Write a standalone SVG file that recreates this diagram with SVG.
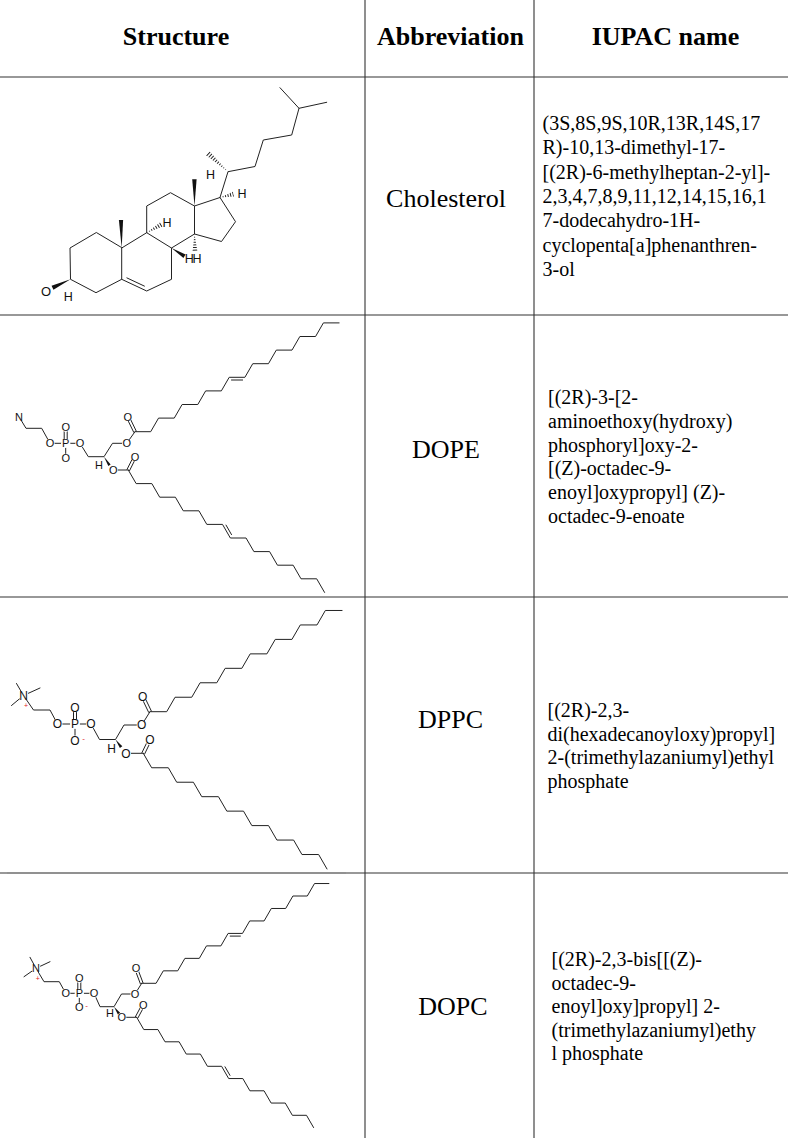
<svg xmlns="http://www.w3.org/2000/svg" width="800" height="1138" viewBox="0 0 800 1138">
<style>
.grid{stroke:#333;stroke-width:1.1;fill:none}
.hdr{font-family:"Liberation Serif","Times New Roman",serif;font-weight:bold;font-size:26px;text-anchor:middle;fill:#000}
.abbr{font-family:"Liberation Serif","Times New Roman",serif;font-size:26px;text-anchor:middle;fill:#000}
.iu{font-family:"Liberation Serif","Times New Roman",serif;font-size:20px;fill:#000}
.b{stroke:#222;stroke-width:1;fill:none;stroke-linejoin:round;stroke-linecap:round}
.w{fill:#111;stroke:none}
.hash{stroke:#222;stroke-width:7;stroke-dasharray:1 1.6;fill:none}
.m{fill:#fff}
.at{font-family:"Liberation Sans",Arial,sans-serif;text-anchor:middle;fill:#111}
.chg{font-family:"Liberation Sans",Arial,sans-serif;text-anchor:middle;fill:#e02020}
</style>
<defs>
<clipPath id="h9"><polygon points="146.7,232.7 162.69,226.39 160.31,222.21"/></clipPath>
<clipPath id="h14"><polygon points="194.5,234 197.5,251.93 192.5,252.07"/></clipPath>
<clipPath id="h17"><polygon points="220,197.5 234.07,196.53 232.93,191.87"/></clipPath>
<clipPath id="h20"><polygon points="228,171.7 209.51,151.3 205.89,155.3"/></clipPath>
</defs>
<rect width="800" height="1138" fill="#fff"/>

<g id="table-lines">
<line class="grid" x1="0" y1="77" x2="788" y2="77"/>
<line class="grid" x1="0" y1="315" x2="788" y2="315"/>
<line class="grid" x1="0" y1="597" x2="788" y2="597"/>
<line class="grid" x1="0" y1="873" x2="788" y2="873"/>
<line x1="7" y1="873" x2="346" y2="873" stroke="#8a8a8a" stroke-width="1.2"/>
<line class="grid" x1="365" y1="0" x2="365" y2="1138"/>
<line class="grid" x1="534" y1="0" x2="534" y2="1138"/>
</g>

<g id="header">
<text class="hdr" x="176" y="45">Structure</text>
<text class="hdr" x="450.5" y="45">Abbreviation</text>
<text class="hdr" x="665.5" y="45">IUPAC name</text>
</g>

<g id="cholesterol-structure">
<path class="b" d="M96,232.7 L70,248 L70.5,279.3 L96,292.7 L121.7,279.3 L121.7,248 Z"/>
<path class="b" d="M121.7,279.3 L146.7,291 L171.5,279.3 L171.5,248 L146.7,232.7 L121.7,248"/>
<line class="b" x1="126.9" y1="277.9" x2="144.4" y2="286.1"/>
<path class="b" d="M146.7,232.7 L146.7,206 L170.5,192.7 L194.5,206 L194.5,234 L171.5,248"/>
<path class="b" d="M194.5,206 L220,197.5 L235.5,221.7 L221.5,241.5 L194.5,234"/>
<path class="b" d="M220,197.5 L228,171.7 L255,166.5 L263.3,140 L291.7,135 L299,108.3 L280,87.7"/>
<line class="b" x1="299" y1="108.3" x2="326.7" y2="102.3"/>
<polygon class="w" points="121.7,248 123.1,220 118.9,220"/>
<polygon class="w" points="194.5,206 196.6,179.3 192.2,179.3"/>
<polygon class="w" points="171.5,248 183.42,257.99 185.58,254.61"/>
<polygon class="w" points="70.5,279.3 53.44,289.79 51.56,285.81"/>
<line class="hash" x1="146.7" y1="232.7" x2="161.5" y2="224.3" clip-path="url(#h9)"/>
<line class="hash" x1="194.5" y1="234" x2="195" y2="252" clip-path="url(#h14)"/>
<line class="hash" x1="220" y1="197.5" x2="233.5" y2="194.2" clip-path="url(#h17)"/>
<line class="hash" x1="228" y1="171.7" x2="207.7" y2="153.3" clip-path="url(#h20)"/>
<text class="at" font-size="13" x="46" y="295.7">O</text>
<text class="at" font-size="12.5" x="68.3" y="301">H</text>
<text class="at" font-size="12.5" x="167" y="226.5">H</text>
<text class="at" font-size="12.5" x="189.3" y="262.8">H</text>
<text class="at" font-size="12.5" x="197" y="262.8">H</text>
<text class="at" font-size="12.5" x="242" y="197.8">H</text>
<text class="at" font-size="12.5" x="210.5" y="179">H</text>
</g>
<g id="cholesterol-abbr"><text class="abbr" x="446" y="207">Cholesterol</text></g>
<g id="cholesterol-iupac">
<text class="iu" x="542.5" y="130">(3S,8S,9S,10R,13R,14S,17</text>
<text class="iu" x="542.5" y="154.3">R)-10,13-dimethyl-17-</text>
<text class="iu" x="542.5" y="178.6">[(2R)-6-methylheptan-2-yl]-</text>
<text class="iu" x="542.5" y="202.9">2,3,4,7,8,9,11,12,14,15,16,1</text>
<text class="iu" x="542.5" y="227.2">7-dodecahydro-1H-</text>
<text class="iu" x="542.5" y="251.5">cyclopenta[a]phenanthren-</text>
<text class="iu" x="542.5" y="275.8">3-ol</text>
</g>

<g id="dope-structure">
<path class="b" d="M19,416.7 L26,428.3 L41.7,428.3 L50,443.3 L80,443.3 L88.3,456.7 L104,456.7 L112.5,443.3 L126.7,443.3 L135,431.7"/>
<line class="b" x1="64.2" y1="443.3" x2="64.2" y2="427.3"/>
<line class="b" x1="67.2" y1="443.3" x2="67.2" y2="427.3"/>
<line class="b" x1="65.7" y1="443.3" x2="65.7" y2="458.3"/>
<line class="b" x1="136.26" y1="431.09" x2="128.96" y2="416.09"/>
<line class="b" x1="133.74" y1="432.31" x2="126.44" y2="417.31"/>
<polygon class="w" points="104,456.7 110.65,464.4 108.35,466"/>
<line class="b" x1="113.3" y1="470" x2="128.3" y2="470"/>
<line class="b" x1="129.55" y1="470.63" x2="136.25" y2="457.33"/>
<line class="b" x1="127.05" y1="469.37" x2="133.75" y2="456.07"/>
<polyline class="b" points="135,431.7 150.7,431.7 158.55,418.1 174.25,418.1 182.1,404.5 197.8,404.5 205.65,390.9 221.35,390.9 229.2,377.3 244.9,377.3 252.75,363.7 268.45,363.7 276.3,350.1 292,350.1 299.85,336.5 315.55,336.5 323.4,322.9 339.1,322.9"/>
<line class="b" x1="231.5" y1="380" x2="242.6" y2="380"/>
<polyline class="b" points="128.3,470 136.15,483.6 151.85,483.6 159.7,497.2 175.4,497.2 183.25,510.8 198.95,510.8 206.8,524.4 222.5,524.4 230.35,538 246.05,538 253.9,551.6 269.6,551.6 277.45,565.2 293.15,565.2 301,578.8 316.7,578.8 324.55,592.4"/>
<line class="b" x1="226.02" y1="525.09" x2="231.51" y2="534.61"/>
<g class="m">
<circle cx="19" cy="416.7" r="4.6"/><circle cx="50" cy="443.3" r="4.6"/><circle cx="65.7" cy="443.3" r="4.6"/>
<circle cx="65.7" cy="427.3" r="4.6"/><circle cx="65.7" cy="458.3" r="4.6"/><circle cx="80" cy="443.3" r="4.6"/>
<circle cx="126.7" cy="443.3" r="4.6"/><circle cx="127.7" cy="416.7" r="4.6"/><circle cx="113.3" cy="470" r="4.6"/>
<circle cx="135" cy="456.7" r="4.6"/>
</g>
<g font-size="11">
<text class="at" x="19" y="420.6">N</text>
<text class="at" x="50" y="447.2">O</text>
<text class="at" x="65.7" y="447.2">P</text>
<text class="at" x="65.7" y="431.2">O</text>
<text class="at" x="65.7" y="462.2">O</text>
<text class="at" x="80" y="447.2">O</text>
<text class="at" x="126.7" y="447.2">O</text>
<text class="at" x="127.7" y="420.6">O</text>
<text class="at" x="113.3" y="473.9">O</text>
<text class="at" x="135" y="460.6">O</text>
<text class="at" x="99" y="469">H</text>
</g>
</g>
<g id="dope-abbr"><text class="abbr" x="446" y="458">DOPE</text></g>
<g id="dope-iupac">
<text class="iu" x="548" y="404">[(2R)-3-[2-</text>
<text class="iu" x="548" y="427.8">aminoethoxy(hydroxy)</text>
<text class="iu" x="548" y="451.6">phosphoryl]oxy-2-</text>
<text class="iu" x="548" y="475.4">[(Z)-octadec-9-</text>
<text class="iu" x="548" y="499.2">enoyl]oxypropyl] (Z)-</text>
<text class="iu" x="548" y="523">octadec-9-enoate</text>
</g>

<g id="dppc-structure">
<line class="b" x1="23.5" y1="695.5" x2="16.5" y2="683.5"/>
<line class="b" x1="23.5" y1="695.5" x2="40" y2="688"/>
<line class="b" x1="23.5" y1="695.5" x2="11.5" y2="705.5"/>
<path class="b" d="M23.5,695.5 L33.5,710 L50,710 L57.5,724 L91,724 L99.5,739.5 L115.5,739.5 L124,725 L141.7,725 L150,711.7"/>
<line class="b" x1="73.5" y1="724" x2="73.5" y2="707.5"/>
<line class="b" x1="76.5" y1="724" x2="76.5" y2="707.5"/>
<line class="b" x1="75" y1="724" x2="75" y2="740.5"/>
<line class="b" x1="151.35" y1="711.05" x2="144.05" y2="695.85"/>
<line class="b" x1="148.65" y1="712.35" x2="141.35" y2="697.15"/>
<polygon class="w" points="115.5,739.5 122.3,746.3 119.9,748.1"/>
<line class="b" x1="126" y1="753.3" x2="143.3" y2="753.3"/>
<line class="b" x1="144.65" y1="753.96" x2="151.35" y2="740.16"/>
<line class="b" x1="141.95" y1="752.64" x2="148.65" y2="738.84"/>
<polyline class="b" points="150,711.7 166.7,711.7 175.05,697.24 191.75,697.24 200.1,682.78 216.8,682.78 225.15,668.32 241.85,668.32 250.2,653.86 266.9,653.86 275.25,639.4 291.95,639.4 300.3,624.94 317,624.94 325.35,610.48 342.05,610.48"/>
<polyline class="b" points="143.3,753.3 151.65,767.76 168.35,767.76 176.7,782.22 193.4,782.22 201.75,796.68 218.45,796.68 226.8,811.14 243.5,811.14 251.85,825.6 268.55,825.6 276.9,840.06 293.6,840.06 301.95,854.52 318.65,854.52 327,868.98"/>
<g class="m">
<circle cx="23.5" cy="695.5" r="5"/><circle cx="57.5" cy="724" r="5"/><circle cx="75" cy="724" r="5"/>
<circle cx="75" cy="707.5" r="5"/><circle cx="75" cy="740.5" r="5"/><circle cx="91" cy="724" r="5"/>
<circle cx="141.7" cy="725" r="5"/><circle cx="142.7" cy="696.5" r="5"/><circle cx="126" cy="753.3" r="5"/>
<circle cx="150" cy="740" r="5"/>
</g>
<g font-size="12">
<text class="at" x="23.5" y="699.8">N</text>
<text class="at" x="57.5" y="728.3">O</text>
<text class="at" x="75" y="728.3">P</text>
<text class="at" x="75" y="711.8">O</text>
<text class="at" x="75" y="744.8">O</text>
<text class="at" x="91" y="728.3">O</text>
<text class="at" x="141.7" y="729.3">O</text>
<text class="at" x="142.7" y="700.8">O</text>
<text class="at" x="126" y="757.6">O</text>
<text class="at" x="150" y="744.3">O</text>
<text class="at" x="111.5" y="752.8">H</text>
</g>
<text class="chg" font-size="7" x="26" y="708">+</text>
<text class="chg" font-size="8" x="83.5" y="741">-</text>
</g>
<g id="dppc-abbr"><text class="abbr" x="450.5" y="727.5">DPPC</text></g>
<g id="dppc-iupac">
<text class="iu" x="547.5" y="717">[(2R)-2,3-</text>
<text class="iu" x="547.5" y="740.5">di(hexadecanoyloxy)propyl]</text>
<text class="iu" x="547.5" y="764">2-(trimethylazaniumyl)ethyl</text>
<text class="iu" x="547.5" y="787.5">phosphate</text>
</g>

<g id="dopc-structure">
<line class="b" x1="36" y1="968.3" x2="30" y2="957.3"/>
<line class="b" x1="36" y1="968.3" x2="50" y2="961.7"/>
<line class="b" x1="36" y1="968.3" x2="24" y2="976.7"/>
<path class="b" d="M36,968.3 L44,981.7 L59.3,981.7 L65.7,993.3 L94,993.3 L100,1006.7 L114,1006.7 L121.5,994 L135,994 L141.7,983.3"/>
<line class="b" x1="77.8" y1="993.3" x2="77.8" y2="978.3"/>
<line class="b" x1="80.8" y1="993.3" x2="80.8" y2="978.3"/>
<line class="b" x1="79.3" y1="993.3" x2="79.3" y2="1007.3"/>
<line class="b" x1="143.01" y1="982.8" x2="137.31" y2="967.8"/>
<line class="b" x1="140.39" y1="983.8" x2="134.69" y2="968.8"/>
<polygon class="w" points="114,1006.7 120.13,1012.78 117.87,1014.42"/>
<line class="b" x1="121.7" y1="1017.3" x2="136.7" y2="1017.3"/>
<line class="b" x1="137.93" y1="1017.96" x2="144.53" y2="1005.66"/>
<line class="b" x1="135.47" y1="1016.64" x2="142.07" y2="1004.34"/>
<polyline class="b" points="141.7,983.3 156.1,983.3 163.3,970.83 177.7,970.83 184.9,958.36 199.3,958.36 206.5,945.89 220.9,945.89 228.1,933.42 242.5,933.42 249.7,920.95 264.1,920.95 271.3,908.48 285.7,908.48 292.9,896.01 307.3,896.01 314.5,883.54 328.9,883.54"/>
<line class="b" x1="230.2" y1="936.1" x2="240.4" y2="936.1"/>
<polyline class="b" points="136.7,1017.3 143.78,1029.55 157.93,1029.55 165,1041.8 179.15,1041.8 186.23,1054.05 200.38,1054.05 207.45,1066.3 221.6,1066.3 228.68,1078.55 242.83,1078.55 249.9,1090.8 264.05,1090.8 271.13,1103.05 285.28,1103.05 292.35,1115.3 306.5,1115.3 313.58,1127.55"/>
<line class="b" x1="225" y1="1066.79" x2="229.96" y2="1075.36"/>
<g class="m">
<circle cx="36" cy="968.3" r="4.6"/><circle cx="65.7" cy="993.3" r="4.6"/><circle cx="79.3" cy="993.3" r="4.6"/>
<circle cx="79.3" cy="978.3" r="4.6"/><circle cx="79.3" cy="1007.3" r="4.6"/><circle cx="94" cy="993.3" r="4.6"/>
<circle cx="135" cy="994" r="4.6"/><circle cx="136" cy="968.3" r="4.6"/><circle cx="121.7" cy="1017.3" r="4.6"/>
<circle cx="143.3" cy="1005" r="4.6"/>
</g>
<g font-size="11">
<text class="at" x="36" y="972.2">N</text>
<text class="at" x="65.7" y="997.2">O</text>
<text class="at" x="79.3" y="997.2">P</text>
<text class="at" x="79.3" y="982.2">O</text>
<text class="at" x="79.3" y="1011.2">O</text>
<text class="at" x="94" y="997.2">O</text>
<text class="at" x="135" y="997.9">O</text>
<text class="at" x="136" y="972.2">O</text>
<text class="at" x="121.7" y="1021.2">O</text>
<text class="at" x="143.3" y="1008.9">O</text>
<text class="at" x="110" y="1017.4">H</text>
</g>
<text class="chg" font-size="7" x="37.7" y="981">+</text>
<text class="chg" font-size="8" x="86.5" y="1008">-</text>
</g>
<g id="dopc-abbr"><text class="abbr" x="453" y="1015">DOPC</text></g>
<g id="dopc-iupac">
<text class="iu" x="551.5" y="966">[(2R)-2,3-bis[[(Z)-</text>
<text class="iu" x="551.5" y="989.5">octadec-9-</text>
<text class="iu" x="551.5" y="1013">enoyl]oxy]propyl] 2-</text>
<text class="iu" x="551.5" y="1036.5">(trimethylazaniumyl)ethy</text>
<text class="iu" x="551.5" y="1060">l phosphate</text>
</g>
</svg>
